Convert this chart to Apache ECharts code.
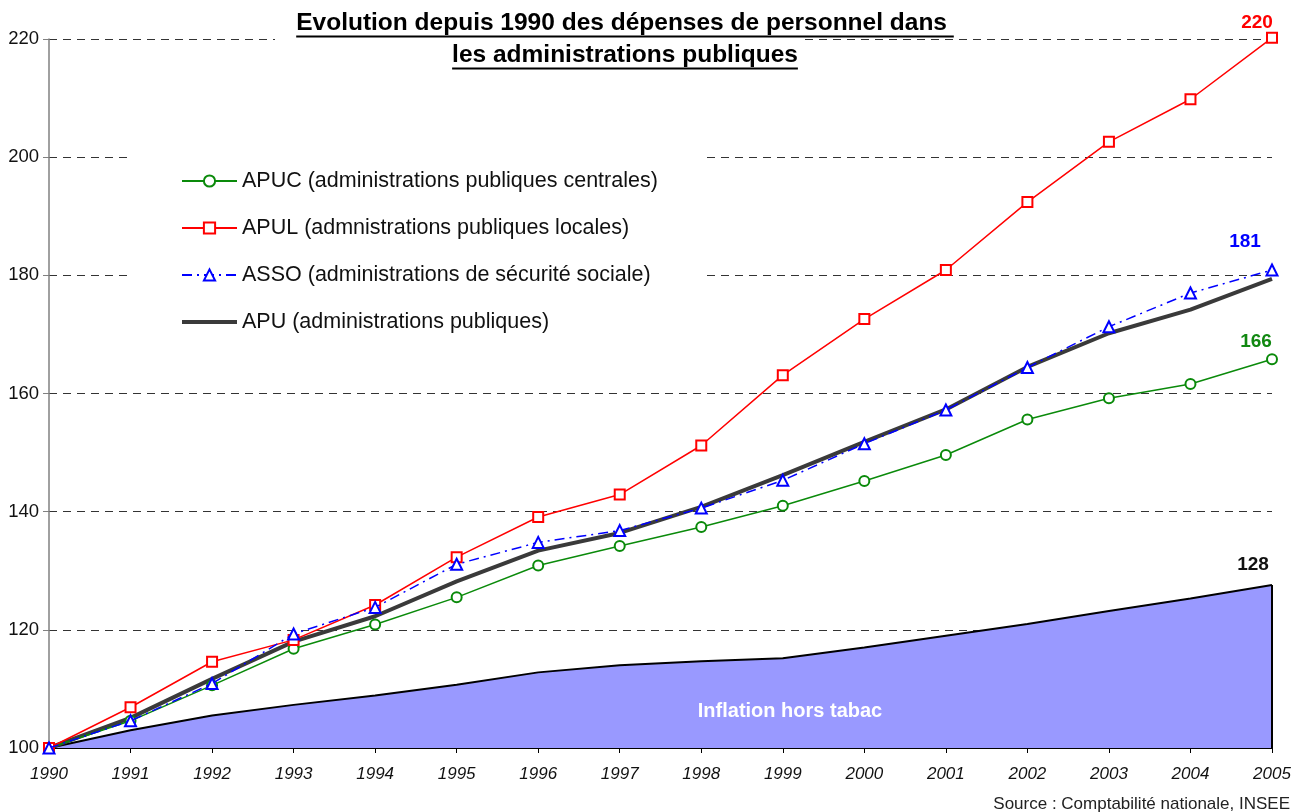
<!DOCTYPE html>
<html>
<head>
<meta charset="utf-8">
<script src="https://cdn.jsdelivr.net/npm/echarts@6/dist/echarts.min.js"></script>
<style>
  html, body { margin: 0; padding: 0; background: #fff; }
  #chart { width: 1294px; height: 812px; }
</style>
</head>
<body>
<div id="chart"></div>
<script>
// Years on the horizontal axis
const years = ['1990','1991','1992','1993','1994','1995','1996','1997','1998','1999','2000','2001','2002','2003','2004','2005'];

// Personnel spending indices, base 100 in 1990
const apuc = [100, 104.6, 110.6, 116.8, 120.9, 125.5, 130.9, 134.2, 137.4, 141.0, 145.2, 149.6, 155.6, 159.2, 161.6, 165.8];
const apul = [100, 106.9, 114.6, 118.3, 124.2, 132.3, 139.1, 142.9, 151.2, 163.1, 172.6, 180.9, 192.4, 202.6, 209.8, 220.2];
const asso = [100, 104.6, 110.9, 119.3, 123.8, 131.1, 134.8, 136.8, 140.6, 145.3, 151.5, 157.2, 164.4, 171.3, 177.0, 180.9];
const apu  = [100, 105.1, 111.7, 118.0, 122.3, 128.2, 133.4, 136.4, 140.8, 146.2, 151.8, 157.3, 164.5, 170.2, 174.2, 179.4];
// Consumer prices excluding tobacco, base 100 in 1990
const inflation = [100, 103.0, 105.5, 107.3, 108.9, 110.7, 112.8, 114.0, 114.7, 115.2, 117.0, 119.0, 121.0, 123.2, 125.3, 127.6];

// Value axis ticks
const yMin = 100, yMax = 220, yStep = 20;

const names = {
  apuc: 'APUC (administrations publiques centrales)',
  apul: 'APUL (admnistrations publiques locales)',
  asso: 'ASSO (administrations de sécurité sociale)',
  apu: 'APU (administrations publiques)'
};

const titleLines = ['Evolution depuis 1990 des dépenses de personnel dans ', 'les administrations publiques'];
const FONT = '"Liberation Sans", Arial, sans-serif';
const TITLE_SIZE = 24.5;
const last = years.length - 1;

function endLabel(color, offset) {
  return {
    show: true,
    position: 'top',
    offset: offset,
    color: color,
    fontFamily: FONT,
    fontWeight: 'bold',
    fontSize: 19,
    formatter: p => p.dataIndex === last ? String(Math.round(p.value)) : ''
  };
}

// Measure title lines so the underlines follow the text width
const ctx = document.createElement('canvas').getContext('2d');
ctx.font = 'bold ' + TITLE_SIZE + 'px "Liberation Sans"';
const titleCx = 625;
const titleGraphics = [];
titleGraphics.push({ type: 'rect', z: 50, shape: { x: 275, y: 31, width: 530, height: 16 }, style: { fill: '#fff' } });
titleLines.forEach((t, i) => {
  const w = ctx.measureText(t).width;
  const cy = 23.5 + i * 32;
  titleGraphics.push({
    type: 'text', z: 51, x: titleCx, y: cy,
    style: { text: t, font: 'bold ' + TITLE_SIZE + 'px ' + FONT, fill: '#000', align: 'center', verticalAlign: 'middle' }
  });
  titleGraphics.push({
    type: 'line', z: 51,
    shape: { x1: titleCx - w / 2, y1: cy + 13, x2: titleCx + w / 2, y2: cy + 13 },
    style: { stroke: '#000', lineWidth: 2.2 }
  });
});

const chart = echarts.init(document.getElementById('chart'), null, { renderer: 'canvas' });

chart.setOption({
  backgroundColor: '#fff',
  animation: false,
  textStyle: { fontFamily: FONT },
  grid: { left: 49, right: 22, top: 39, bottom: 64, containLabel: false },
  legend: {
    orient: 'vertical',
    left: 130, top: 140,
    padding: [30, 47, 15, 50],
    backgroundColor: '#fff',
    z: 20,
    itemWidth: 55, itemHeight: 14, itemGap: 25,
    textStyle: { fontSize: 21.5, lineHeight: 22, color: '#111', fontFamily: FONT },
    data: [
      names.apuc,
      names.apul,
      names.asso,
      { name: names.apu, itemStyle: { color: 'transparent', borderWidth: 0, opacity: 0 }, lineStyle: { width: 4, color: '#3a3a3a' } }
    ]
  },
  xAxis: {
    type: 'category',
    data: years,
    boundaryGap: false,
    axisLine: { lineStyle: { color: '#000', width: 2 } },
    axisTick: { show: true, length: 5, lineStyle: { color: '#000', width: 1 } },
    axisLabel: { fontStyle: 'italic', fontSize: 17, color: '#111', margin: 18, fontFamily: FONT },
    splitLine: { show: false }
  },
  yAxis: {
    type: 'value',
    min: yMin, max: yMax, interval: yStep,
    axisLine: { show: true, lineStyle: { color: '#808080', width: 1.5 } },
    axisTick: { show: true, length: 6, lineStyle: { color: '#808080' } },
    axisLabel: { fontSize: 18.5, color: '#111', margin: 10, fontFamily: FONT },
    splitLine: { show: true, lineStyle: { color: '#333', width: 1, type: [8, 6] } }
  },
  graphic: titleGraphics.concat([
    {
      type: 'text', z: 30, x: 790, y: 711,
      style: { text: 'Inflation hors tabac', font: 'bold 20px ' + FONT, fill: '#fff', align: 'center', verticalAlign: 'middle' }
    },
    {
      type: 'text', z: 30, x: 1290, y: 804,
      style: { text: 'Source : Comptabilité nationale, INSEE', font: '17px ' + FONT, fill: '#222', align: 'right', verticalAlign: 'middle' }
    }
  ]),
  series: [
    {
      name: 'Inflation hors tabac',
      type: 'line',
      data: inflation,
      symbol: 'circle',
      symbolSize: 0,
      clip: false,
      z: 1,
      lineStyle: { color: '#000', width: 2 },
      itemStyle: { color: '#000' },
      areaStyle: { color: '#9999FF', opacity: 1 },
      label: endLabel('#111', [-19, -6]),
      markLine: {
        silent: true,
        symbol: 'none',
        label: { show: false },
        lineStyle: { color: '#000', width: 2, type: 'solid' },
        data: [[{ coord: [years[last], yMin] }, { coord: [years[last], inflation[last]] }]]
      }
    },
    {
      name: names.apu,
      type: 'line',
      data: apu,
      symbol: 'none',
      z: 3,
      lineStyle: { color: '#3a3a3a', width: 4 },
      itemStyle: { color: '#3a3a3a' }
    },
    {
      name: names.apuc,
      type: 'line',
      data: apuc,
      symbol: 'emptyCircle',
      symbolSize: 10,
      clip: false,
      z: 4,
      lineStyle: { color: '#0a8a0a', width: 1.5 },
      itemStyle: { color: '#0a8a0a', borderWidth: 1.5 },
      label: endLabel('#118811', [-16, 3])
    },
    {
      name: names.apul,
      type: 'line',
      data: apul,
      symbol: 'emptyRect',
      symbolSize: 10,
      clip: false,
      z: 5,
      lineStyle: { color: '#ff0000', width: 1.5 },
      itemStyle: { color: '#ff0000', borderWidth: 1.5 },
      label: endLabel('#ff0000', [-15, 5])
    },
    {
      name: names.asso,
      type: 'line',
      data: asso,
      symbol: 'emptyTriangle',
      symbolSize: 11,
      clip: false,
      z: 6,
      lineStyle: { color: '#0000ff', width: 1.5, type: [10, 5, 2, 5] },
      itemStyle: { color: '#0000ff', borderWidth: 1.5 },
      label: endLabel('#0000ff', [-27, -7])
    }
  ]
});
</script>
</body>
</html>
